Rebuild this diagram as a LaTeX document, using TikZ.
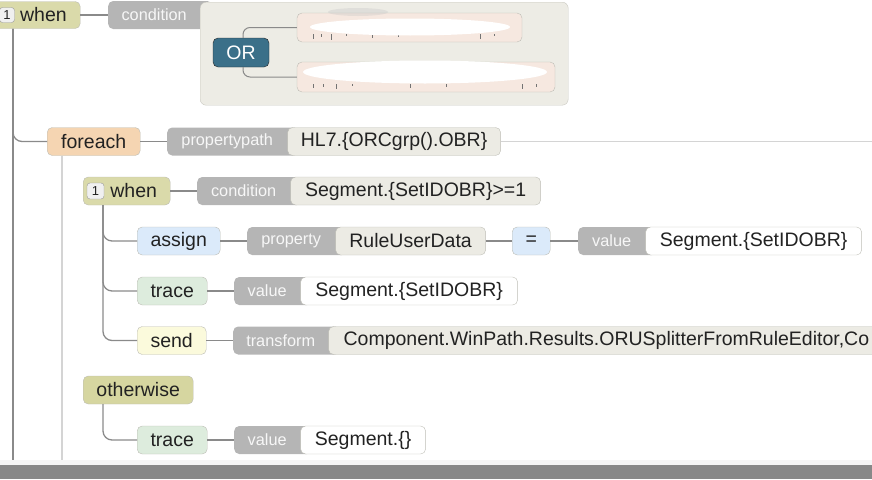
\documentclass[tikz,border=0pt]{standalone}
\usepackage{fontspec}
\setmainfont{Liberation Sans}
\usepackage{tikz}
\usetikzlibrary{calc,positioning}

\definecolor{whencol}{HTML}{DADAAA}
\definecolor{othcol}{HTML}{D6D6A0}
\definecolor{forecol}{HTML}{F5D5B2}
\definecolor{asgcol}{HTML}{DBEAFA}
\definecolor{trcol}{HTML}{DDECDD}
\definecolor{sendcol}{HTML}{FBFADC}
\definecolor{valcol}{HTML}{ECEBE4}
\definecolor{boxline}{HTML}{BDBDB5}
\definecolor{pillgray}{HTML}{B5B5B5}
\definecolor{pilltxt}{HTML}{F7F7F7}
\definecolor{linkcol}{HTML}{8A8A8A}
\definecolor{faintcol}{HTML}{D4D4D4}
\definecolor{contcol}{HTML}{EDECE5}
\definecolor{contline}{HTML}{C9C8C0}
\definecolor{orcol}{HTML}{3B7089}
\definecolor{redcol}{HTML}{F6E8E0}
\definecolor{barcol}{HTML}{888888}
\definecolor{txtcol}{HTML}{222222}

\tikzset{
  blk/.style={draw=boxline,rounded corners=5pt,minimum height=28pt,inner sep=0pt,anchor=west,
              text=txtcol,font=\fontsize{19.5}{22}\selectfont},
  pill/.style={fill=pillgray,rounded corners=5pt,minimum height=28pt,inner sep=0pt,anchor=west,
               text=pilltxt,font=\fontsize{16.3}{19}\selectfont},
  valbox/.style={blk},
  badge/.style={draw=gray!80,fill=gray!12,rounded corners=3pt,inner sep=0pt,
                minimum width=16pt,minimum height=15pt,text=txtcol,font=\fontsize{13}{14}\selectfont},
  link/.style={draw=linkcol,line width=1.3pt},
  faint/.style={draw=faintcol,line width=1.2pt},
  scrap/.style={draw=black!55,line width=1pt},
}

\begin{document}
\begin{tikzpicture}[x=1pt,y=-1pt]
  %\draw[color=gray,step=10pt,help lines,opacity=0.3] (0,0) grid (872,479); %help grids
  \useasboundingbox (0,0) rectangle (872,479);
  \clip (0,0) rectangle (872,479);
  \def\pval#1#2#3#4#5#6#7{
    \node[pill] (#1) at #2 {\makebox[#4]{#3}\rule{12pt}{0pt}};
    \node[valbox,fill=#5,minimum width=#6] (#1v) at ([xshift=-12pt]#1.east) {#7};
  };
  % top when with OR condition
  \node[blk,fill=whencol,minimum width=88pt,minimum height=27pt] (w0) at (-8,15) {\hspace{14.5pt}when};
  \node[badge,minimum width=15pt] (b0) at (7,15) {1};
  \node[pill] (p0) at (108,15) {\makebox[92pt]{condition}\rule{12pt}{0pt}};
  \node[draw=contline,fill=contcol,rounded corners=6pt,anchor=north west,
        minimum width=368pt,minimum height=103pt] (c0) at (200,2) {};
  \draw[link] (w0) -- (p0);
  \node[draw=black!85,fill=orcol,rounded corners=5pt,minimum width=56pt,minimum height=29pt,
        inner sep=0pt,text=white,font=\fontsize{19.5}{22}\selectfont] (or) at (241,52.5) {OR};
  \node[blk,anchor=center,fill=redcol,minimum width=225pt,minimum height=29pt] (r1) at (409.5,27.5) {};
  \node[blk,anchor=center,fill=redcol,minimum width=258pt,minimum height=30pt] (r2) at (426,77) {};
  % scraps of the hidden text, then the white scribbles over them
  \foreach \xx/\ll in {313/5,321/3,331/6,346/2,372/4,398/3,480/5,494/2}
    \draw[scrap] (\xx,34) -- ++(0,\ll);
  \foreach \xx/\ll in {313/4,323/3,336/5,352/2,410/4,446/3,522/5,536/3}
    \draw[scrap] (\xx,84) -- ++(0,\ll);
  \fill[gray!45,opacity=0.35] (358,12) ellipse [x radius=30pt,y radius=4pt];
  \fill[white] (410,27) ellipse [x radius=100pt,y radius=8.5pt];
  \fill[white] (425,72) ellipse [x radius=122pt,y radius=11.5pt];
  \draw[draw=linkcol,line width=1pt,rounded corners=7pt] ([xshift=2pt]or.north) |- (r1.west);
  \draw[draw=linkcol,line width=1pt,rounded corners=7pt] ([xshift=2pt]or.south) |- (r2.west);
  % main trunk
  \coordinate (end0) at (13,460);
  \coordinate (end1) at (62,460);
  \draw[link] ([xshift=21pt]w0.south west) -- (end0);
  % foreach
  \node[blk,fill=forecol,minimum width=93pt] (fe) at (47,141.5) {foreach};
  \draw[link,rounded corners=9pt] ([xshift=21pt]w0.south west) |- (fe.west);
  \pval{p1}{(167,141.5)}{propertypath}{120pt}{valcol}{213pt}{HL7.\{ORCgrp().OBR\}};
  \draw[link] (fe) -- (p1);
  \coordinate (tail1) at (880,141.5);
  \draw[faint] (p1v.east) -- (tail1);
  \draw[faint] ([xshift=15pt]fe.south west) -- (end1);
  % inner when
  \node[blk,fill=whencol,minimum width=87pt] (w1) at (83,191) {\hspace{14pt}when};
  \node[badge,minimum width=17pt,minimum height=16pt] (b1) at (95.5,191) {1};
  \pval{p2}{(197,191)}{condition}{93pt}{valcol}{250pt}{Segment.\{SetIDOBR\}>=1};
  \draw[link] (w1) -- (p2);
  % assign
  \node[blk,fill=asgcol,minimum width=83pt] (as) at (137,241) {assign};
  \pval{p3}{(247,241)}{property}{88pt}{valcol}{150pt}{RuleUserData};
  \node[blk,fill=asgcol,minimum width=38pt] (eq) at (512,241) {=};
  \pval{p4}{(578,241)}{value}{67pt}{white}{216pt}{Segment.\{SetIDOBR\}};
  \draw[link] (as) -- (p3);
  \draw[link] (p3v) -- (eq);
  \draw[link] (eq) -- (p4);
  % trace
  \node[blk,fill=trcol,minimum width=70pt] (tr) at (137,291) {trace};
  \pval{p5}{(234,291)}{value}{66pt}{white}{217pt}{Segment.\{SetIDOBR\}};
  \draw[link] (tr) -- (p5);
  % send
  \node[blk,fill=sendcol,minimum width=69pt] (se) at (137,340.5) {send};
  \node[pill] (p6) at (233,340.5) {\makebox[95pt]{transform}\rule{12pt}{0pt}};
  \node[valbox,fill=valcol,inner xsep=15pt] (p6v) at ([xshift=-12pt]p6.east)
       {Component.WinPath.Results.ORUSplitterFromRuleEditor,Co\rule{30pt}{0pt}};
  \draw[link] (se) -- (p6);
  \draw[link,rounded corners=9pt] ([xshift=20pt]w1.south west) |- (as.west);
  \draw[link,rounded corners=9pt] ([xshift=20pt]w1.south west) |- (tr.west);
  \draw[link,rounded corners=9pt] ([xshift=20pt]w1.south west) |- (se.west);
  % otherwise
  \node[blk,fill=othcol,minimum width=110pt] (ow) at (83,390) {otherwise};
  \node[blk,fill=trcol,minimum width=70pt] (t2) at (137,440) {trace};
  \pval{p7}{(234,440)}{value}{66pt}{white}{125pt}{Segment.\{\}};
  \draw[link] (t2) -- (p7);
  \draw[link,rounded corners=9pt] ([xshift=20pt]ow.south west) |- (t2.west);
  % bottom bar
  \fill[gray!8] (0,460) rectangle (872,465);
  \fill[barcol] (0,465) rectangle (872,479);
\end{tikzpicture}
\end{document}
